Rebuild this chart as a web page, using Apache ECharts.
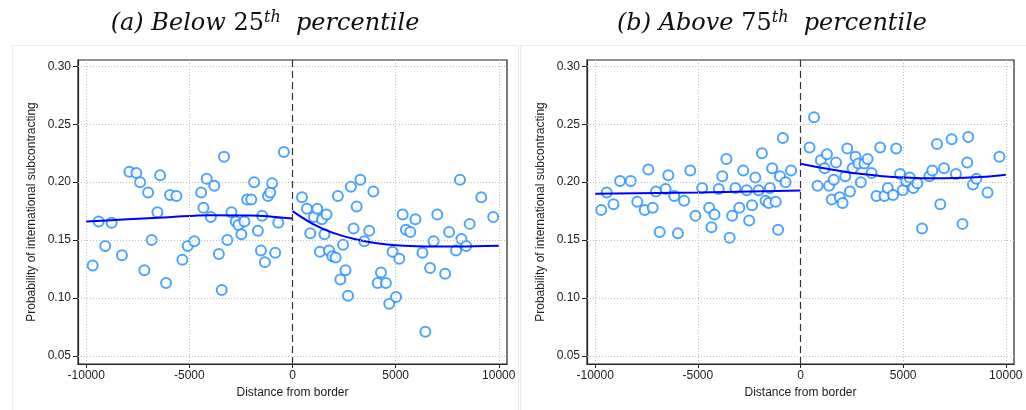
<!DOCTYPE html>
<html>
<head>
<meta charset="utf-8">
<title>Probability of international subcontracting</title>
<script src="https://cdn.jsdelivr.net/npm/echarts@6/dist/echarts.min.js"></script>
<style>
  html, body { margin: 0; padding: 0; background: #fff; }
  #main { width: 1026px; height: 410px; }
</style>
</head>
<body>
<div id="main"></div>
<script>
// ---- data ----
var xTicks = [-10000, -5000, 0, 5000, 10000];
var yTicks = [0.05, 0.10, 0.15, 0.20, 0.25, 0.30];

// (a) below 25th percentile: binned means
var belowDist = [-9690, -9400, -9080, -8770, -8270, -7910, -7570, -7390, -7180, -7000, -6830, -6550, -6420, -6130, -5940, -5630, -5340, -5080, -4760, -4430, -4320, -4160, -3960, -3790, -3570, -3430, -3320, -3160, -2960, -2750, -2620, -2480, -2330, -2200, -2000, -1860, -1680, -1530, -1470, -1340, -1190, -1080, -990, -840, -690, -420,
  460, 700, 860, 1040, 1200, 1330, 1430, 1550, 1650, 1770, 1930, 2090, 2200, 2320, 2450, 2570, 2690, 2830, 2960, 3110, 3290, 3480, 3720, 3920, 4130, 4290, 4530, 4690, 4850, 5020, 5180, 5340, 5500, 5710, 5960, 6300, 6440, 6670, 6840, 7020, 7400, 7590, 7930, 8120, 8190, 8420, 8590, 9150, 9730];
var belowProb = [0.128, 0.166, 0.145, 0.165, 0.137, 0.209, 0.208, 0.200, 0.124, 0.191, 0.150, 0.174, 0.206, 0.113, 0.189, 0.188, 0.133, 0.145, 0.149, 0.191, 0.178, 0.203, 0.170, 0.197, 0.138, 0.107, 0.222, 0.150, 0.174, 0.166, 0.163, 0.155, 0.166, 0.185, 0.185, 0.200, 0.158, 0.141, 0.171, 0.131, 0.188, 0.191, 0.199, 0.139, 0.165, 0.226,
  0.187, 0.177, 0.156, 0.170, 0.177, 0.140, 0.168, 0.155, 0.172, 0.141, 0.136, 0.135, 0.188, 0.116, 0.146, 0.124, 0.102, 0.196, 0.160, 0.179, 0.202, 0.149, 0.158, 0.192, 0.113, 0.122, 0.113, 0.095, 0.140, 0.101, 0.134, 0.172, 0.159, 0.157, 0.168, 0.139, 0.071, 0.126, 0.149, 0.172, 0.121, 0.157, 0.141, 0.202, 0.151, 0.145, 0.164, 0.187, 0.170];
var belowFitLeftX = [-10000, -8000, -6000, -4000, -2000, -1000, 0];
var belowFitLeftY = [0.166, 0.168, 0.1698, 0.1715, 0.1713, 0.1702, 0.1686];
var belowFitRightX = [0, 1000, 2000, 3000, 4000, 5000, 6000, 8000, 10000];
var belowFitRightY = [0.175, 0.1638, 0.156, 0.151, 0.1475, 0.1455, 0.1448, 0.1445, 0.1452];

// (b) above 75th percentile
var aboveDist = [-9710, -9440, -9110, -8790, -8270, -7950, -7590, -7410, -7200, -7040, -6860, -6570, -6440, -6150, -5970, -5670, -5370, -5120, -4790, -4450, -4340, -4190, -3980, -3810, -3610, -3450, -3330, -3170, -2980, -2790, -2620, -2500, -2360, -2200, -2040, -1880, -1700, -1550, -1490, -1380, -1210, -1090, -1000, -860, -730, -460,
  440, 660, 830, 990, 1170, 1290, 1390, 1520, 1620, 1730, 1910, 2050, 2180, 2280, 2410, 2540, 2680, 2820, 2940, 3110, 3270, 3460, 3700, 3880, 4090, 4250, 4510, 4660, 4850, 4980, 5150, 5320, 5500, 5690, 5920, 6280, 6420, 6650, 6810, 6990, 7360, 7570, 7890, 8120, 8170, 8400, 8570, 9110, 9690];
var aboveProb = [0.176, 0.191, 0.181, 0.201, 0.201, 0.183, 0.176, 0.211, 0.178, 0.192, 0.157, 0.194, 0.206, 0.188, 0.156, 0.184, 0.210, 0.171, 0.195, 0.178, 0.161, 0.172, 0.194, 0.205, 0.220, 0.152, 0.171, 0.195, 0.178, 0.210, 0.193, 0.167, 0.180, 0.204, 0.193, 0.225, 0.184, 0.182, 0.195, 0.212, 0.183, 0.159, 0.205, 0.238, 0.200, 0.210,
  0.230, 0.256, 0.197, 0.219, 0.212, 0.224, 0.197, 0.185, 0.202, 0.217, 0.187, 0.182, 0.205, 0.229, 0.192, 0.212, 0.222, 0.216, 0.200, 0.216, 0.220, 0.208, 0.188, 0.230, 0.188, 0.195, 0.189, 0.229, 0.207, 0.193, 0.201, 0.204, 0.195, 0.199, 0.160, 0.205, 0.210, 0.233, 0.181, 0.212, 0.237, 0.207, 0.164, 0.217, 0.239, 0.198, 0.203, 0.191, 0.222];
var aboveFitLeftX = [-10000, -5000, 0];
var aboveFitLeftY = [0.190, 0.191, 0.1928];
var aboveFitRightX = [0, 1000, 2000, 3000, 4000, 5000, 6000, 7000, 8000, 9000, 10000];
var aboveFitRightY = [0.2158, 0.2125, 0.2095, 0.207, 0.2052, 0.204, 0.2034, 0.2034, 0.2037, 0.2046, 0.2063];

var titleA = ['(a) Below ', '25', 'th', '  percentile'];
var titleB = ['(b) Above ', '75', 'th', '  percentile'];
var xName = 'Distance from border';
var yName = 'Probability of international subcontracting';

// ---- helpers ----
function zip(xs, ys) {
    var out = [];
    for (var i = 0; i < xs.length; i++) out.push([xs[i], ys[i]]);
    return out;
}

var textColor = '#222';
var labelFont = 'Liberation Sans, Arial, sans-serif';
var serif = 'DejaVu Serif, Liberation Serif, serif';

function makeX(idx) {
    return {
        type: 'value', gridIndex: idx, min: -10400, max: 10400,
        name: xName, nameLocation: 'middle', nameGap: 22,
        nameTextStyle: { color: textColor, fontSize: 12, fontFamily: labelFont },
        axisLine: { show: true, onZero: false, lineStyle: { color: '#222', width: 1.2 } },
        axisTick: { show: true, length: 4, customValues: xTicks, lineStyle: { color: '#222' } },
        axisLabel: {
            customValues: xTicks, color: textColor, fontSize: 12, fontFamily: labelFont, margin: 6,
            formatter: function (v) { return String(v); }
        },
        splitLine: { show: false }
    };
}

function makeY(idx) {
    return {
        type: 'value', gridIndex: idx, min: 0.0431, max: 0.3054,
        name: yName, nameLocation: 'middle', nameGap: 40, nameRotate: 90,
        nameTextStyle: { color: textColor, fontSize: 12, fontFamily: labelFont },
        axisLine: { show: true, onZero: false, lineStyle: { color: '#222', width: 1.2 } },
        axisTick: { show: true, length: 5, customValues: yTicks, lineStyle: { color: '#222' } },
        axisLabel: {
            customValues: yTicks, color: textColor, fontSize: 12, fontFamily: labelFont, margin: 7,
            formatter: function (v) { return v.toFixed(2); }
        },
        splitLine: { show: false }
    };
}

function gridLines(idx) {
    var d = [];
    yTicks.forEach(function (v) { d.push({ yAxis: v }); });
    xTicks.forEach(function (v) { if (v !== 0) d.push({ xAxis: v }); });
    return {
        type: 'scatter', xAxisIndex: idx, yAxisIndex: idx, data: [], silent: true, z: 1,
        markLine: {
            silent: true, symbol: 'none', label: { show: false },
            lineStyle: { color: '#bdbdbd', type: [1, 2], width: 1 },
            data: d
        }
    };
}

function zeroLine(idx) {
    return {
        type: 'scatter', xAxisIndex: idx, yAxisIndex: idx, data: [], silent: true, z: 2,
        markLine: {
            silent: true, symbol: 'none', label: { show: false },
            lineStyle: { color: '#333', type: [7, 4], width: 1.2 },
            data: [{ xAxis: 0 }]
        }
    };
}

function dots(idx, xs, ys) {
    return {
        type: 'scatter', xAxisIndex: idx, yAxisIndex: idx, z: 3,
        symbol: 'emptyCircle', symbolSize: 10,
        itemStyle: { color: '#1e8fff', borderWidth: 1.5 },
        data: zip(xs, ys)
    };
}

function fit(idx, xs, ys) {
    return {
        type: 'line', xAxisIndex: idx, yAxisIndex: idx, z: 4,
        smooth: 0.35, symbol: 'none',
        lineStyle: { color: '#0000ff', width: 2 },
        data: zip(xs, ys)
    };
}

function titleText(x, parts) {
    return {
        type: 'text', x: x, y: 24,
        style: {
            text: '{it|' + parts[0] + '}{up|' + parts[1] + '}{sup|' + parts[2] + '}{it|' + parts[3] + '}',
            align: 'center', verticalAlign: 'middle',
            rich: {
                it: { fontFamily: serif, fontStyle: 'italic', fontSize: 24, fill: '#111' },
                up: { fontFamily: serif, fontSize: 24, fill: '#111' },
                sup: { fontFamily: serif, fontStyle: 'italic', fontSize: 16, fill: '#111', verticalAlign: 'top', padding: [0, 0, 13, 0] }
            }
        }
    };
}

var myChart = echarts.init(document.getElementById('main'), null, { renderer: 'canvas' });

var option = {
    backgroundColor: '#fff',
    animation: false,
    graphic: [
        { type: 'rect', shape: { x: 12.5, y: 45.5, width: 506, height: 380 }, style: { fill: '#fff', stroke: '#e6eef0', lineWidth: 1 }, z: -10 },
        { type: 'rect', shape: { x: 520.5, y: 45.5, width: 520, height: 380 }, style: { fill: '#fff', stroke: '#e6eef0', lineWidth: 1 }, z: -10 },
        titleText(265, titleA),
        titleText(772, titleB)
    ],
    grid: [
        { left: 78, right: 519, top: 60, bottom: 46, show: true, borderColor: '#222', borderWidth: 1.2, backgroundColor: 'transparent' },
        { left: 587, right: 12, top: 60, bottom: 46, show: true, borderColor: '#222', borderWidth: 1.2, backgroundColor: 'transparent' }
    ],
    xAxis: [makeX(0), makeX(1)],
    yAxis: [makeY(0), makeY(1)],
    series: [
        gridLines(0), zeroLine(0),
        dots(0, belowDist, belowProb),
        fit(0, belowFitLeftX, belowFitLeftY),
        fit(0, belowFitRightX, belowFitRightY),
        gridLines(1), zeroLine(1),
        dots(1, aboveDist, aboveProb),
        fit(1, aboveFitLeftX, aboveFitLeftY),
        fit(1, aboveFitRightX, aboveFitRightY)
    ]
};

myChart.setOption(option);
window.onresize = myChart.resize;
</script>
</body>
</html>
